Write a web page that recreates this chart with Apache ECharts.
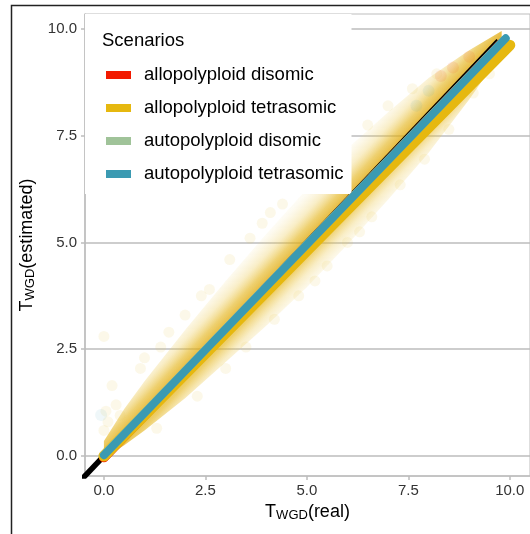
<!DOCTYPE html>
<html>
<head>
<meta charset="utf-8">
<script src="https://cdn.jsdelivr.net/npm/echarts@6/dist/echarts.min.js"></script>
<style>html,body{margin:0;padding:0;background:#fff}#c{width:530px;height:534px}</style>
</head>
<body>
<div id="c"></div>
<script>
// ---- data ----
const xTicks = [0, 2.5, 5, 7.5, 10];
const yTicks = [0, 2.5, 5, 7.5, 10];
const scenarios = ['allopolyploid disomic', 'allopolyploid tetrasomic', 'autopolyploid disomic', 'autopolyploid tetrasomic'];
// fitted lines per scenario: [[xStart, yStart], [xEnd, yEnd]]
const fitAlloDisomic = [[0, -0.03], [9.8, 9.66]];
const fitAlloTetrasomic = [[0, 0.0], [10.0, 9.62]];
const fitAutoDisomic = [[0, 0.03], [9.85, 9.74]];
const fitAutoTetrasomic = [[0, 0.02], [9.9, 9.78]];
const identityLine = [[-1, -1], [9.72, 9.72]];
// point cloud envelope (estimated) along T_WGD(real)
const cloudX = [0, 0.5, 1, 2, 3, 4, 5, 6, 7, 8, 9, 9.8];
const cloudUpper = [0.35, 1.1, 1.75, 2.95, 4.1, 5.2, 6.25, 7.2, 8.05, 8.85, 9.5, 9.95];
const cloudLower = [-0.05, 0.25, 0.6, 1.35, 2.2, 3.05, 3.95, 4.95, 6.0, 7.1, 8.35, 9.45];
// scattered outlying points (estimated)
const faintPoints = [[0, 2.8], [0.2, 1.65], [0.9, 2.05], [0.05, 1.05], [0.3, 1.2], [0.0, 0.6], [0.1, 0.8],
  [0.4, 0.95], [1.4, 2.55], [2.0, 3.3], [1.6, 2.9], [2.6, 3.9], [3.1, 4.6], [3.6, 5.1], [3.9, 5.45], [4.4, 5.9],
  [4.9, 6.35], [5.4, 6.75], [5.9, 7.2], [6.5, 7.75], [7.0, 8.2], [7.6, 8.6], [8.2, 8.95], [1.3, 0.65], [2.3, 1.4],
  [3.0, 2.05], [3.5, 2.55], [4.2, 3.2], [4.8, 3.75], [5.5, 4.45], [6.0, 5.0], [6.6, 5.6], [7.3, 6.35], [7.9, 6.95],
  [8.5, 7.65], [9.1, 8.5], [9.5, 8.95], [1.0, 2.3], [2.4, 3.75], [4.1, 5.7], [5.2, 4.1], [6.3, 5.25]];
const redPoints = [[8.6, 9.1], [9.0, 9.35], [8.3, 8.9], [8.9, 8.75]];
const bluePoints = [[-0.07, 0.96], [8.0, 8.55], [9.3, 9.05], [7.7, 8.2]];

// ---- styles ----
const colors = ['#F21A00', '#E6B80F', '#A0C399', '#3B9AB2'];
const grey = '#bdbdbd';
const chart = echarts.init(document.getElementById('c'), null, {renderer: 'canvas'});

function cloudItem(params, api) {
  const pts = [];
  for (let i = 0; i < cloudX.length; i++) pts.push(api.coord([cloudX[i], cloudUpper[i]]));
  for (let i = cloudX.length - 1; i >= 0; i--) pts.push(api.coord([cloudX[i], cloudLower[i]]));
  // gradient perpendicular to the diagonal
  const a = api.coord([0, 0]), b = api.coord([10, 10]);
  const dx = b[0] - a[0], dy = b[1] - a[1], len = Math.hypot(dx, dy);
  const nx = -dy / len, ny = dx / len, R = 44;
  const cx = (a[0] + b[0]) / 2, cy = (a[1] + b[1]) / 2;
  const grad = new echarts.graphic.LinearGradient(cx - nx * R, cy - ny * R, cx + nx * R, cy + ny * R, [
    {offset: 0.0, color: 'rgba(242,220,140,0)'},
    {offset: 0.12, color: 'rgba(240,214,120,0.10)'},
    {offset: 0.26, color: 'rgba(235,198,70,0.30)'},
    {offset: 0.38, color: 'rgba(228,180,25,0.62)'},
    {offset: 0.5, color: 'rgba(224,166,8,0.82)'},
    {offset: 0.62, color: 'rgba(228,180,25,0.62)'},
    {offset: 0.74, color: 'rgba(235,198,70,0.30)'},
    {offset: 0.88, color: 'rgba(240,214,120,0.10)'},
    {offset: 1.0, color: 'rgba(242,220,140,0)'}
  ], true);
  return {type: 'polygon', shape: {points: pts}, style: {fill: grad}};
}
const fonts = '"Liberation Sans", Arial, sans-serif';
const fits = [fitAlloDisomic, fitAlloTetrasomic, fitAutoDisomic, fitAutoTetrasomic];
const widths = [10, 11, 8, 8];

const option = {
  animation: false,
  textStyle: {fontFamily: fonts},
  grid: {left: 85, top: 14, right: -2, bottom: 58, show: true, borderColor: grey, borderWidth: 1, backgroundColor: 'transparent'},
  xAxis: {
    type: 'value', min: -0.466, max: 10.498,
    axisLine: {show: true, onZero: false, lineStyle: {color: grey, width: 1.5}},
    axisTick: {show: true, length: 4, customValues: xTicks, lineStyle: {color: grey, width: 1.5}},
    axisLabel: {customValues: xTicks, margin: 7, fontSize: 15, color: '#333', fontFamily: fonts, formatter: v => v.toFixed(1)},
    splitLine: {show: false},
    name: '{a|T}{b|WGD}{a|(real)}', nameLocation: 'middle', nameGap: 27,
    nameTextStyle: {rich: {a: {fontSize: 18, color: '#000', fontFamily: fonts, lineHeight: 19},
      b: {fontSize: 13, color: '#000', fontFamily: fonts, lineHeight: 8, verticalAlign: 'bottom'}}}
  },
  yAxis: {
    type: 'value', min: -0.468, max: 10.35,
    axisLine: {show: true, onZero: false, lineStyle: {color: grey, width: 1.5}},
    axisTick: {show: true, length: 4, customValues: yTicks, lineStyle: {color: grey, width: 1.5}},
    axisLabel: {customValues: yTicks, margin: 8, fontSize: 15, color: '#333', fontFamily: fonts, formatter: v => v.toFixed(1)},
    splitLine: {show: false},
    name: '{a|T}{b|WGD}{a|(estimated)}', nameLocation: 'middle', nameGap: 47, nameRotate: 90,
    nameTextStyle: {rich: {a: {fontSize: 18, color: '#000', fontFamily: fonts, lineHeight: 19},
      b: {fontSize: 13, color: '#000', fontFamily: fonts, lineHeight: 8, verticalAlign: 'bottom'}}}
  },
  title: {text: 'Scenarios', left: 102, top: 31, padding: 0, z: 10,
    textStyle: {fontSize: 18.5, fontWeight: 'normal', color: '#000', fontFamily: fonts, lineHeight: 20}},
  legend: {
    data: scenarios, orient: 'vertical', left: 85, top: 14, padding: [51, 8, 10, 21],
    backgroundColor: '#fff', icon: 'rect', itemWidth: 25, itemHeight: 8, itemGap: 13,
    itemStyle: {borderWidth: 0},
    textStyle: {fontSize: 18.5, color: '#000', fontFamily: fonts, lineHeight: 20, padding: [0, 0, 0, 8]},
    selectedMode: false
  },
  graphic: {elements: [{type: 'rect', silent: true, z: 100,
    shape: {x: 11.5, y: 5.5, width: 700, height: 700},
    style: {fill: null, stroke: '#222', lineWidth: 1.5}}]},
  series: [
    {type: 'custom', name: 'cloud', data: [[0, 0]], renderItem: cloudItem, silent: true, z: 2,
      markLine: {silent: true, symbol: 'none', z: 1, label: {show: false},
        lineStyle: {color: grey, width: 1.5, type: 'solid'},
        data: yTicks.map(v => ({yAxis: v}))}},
    {type: 'scatter', name: 'faint', data: faintPoints, symbolSize: 11, silent: true, z: 2,
      itemStyle: {color: 'rgba(232,192,60,0.14)'}},
    {type: 'scatter', name: 'red', data: redPoints, symbolSize: 12, silent: true, z: 2,
      itemStyle: {color: 'rgba(242,26,0,0.10)'}},
    {type: 'scatter', name: 'blue', data: bluePoints, symbolSize: 12, silent: true, z: 2,
      itemStyle: {color: 'rgba(59,154,178,0.10)'}},
    {type: 'line', name: 'identity', data: identityLine, showSymbol: false, silent: true, z: 3,
      lineStyle: {color: '#000', width: 5.5, cap: 'butt'}}
  ].concat(scenarios.map((s, i) => ({
    type: 'line', name: s, data: fits[i], showSymbol: false, silent: true, z: 4,
    color: colors[i], itemStyle: {color: colors[i], borderWidth: 0},
    lineStyle: {color: colors[i], width: widths[i], cap: 'round'}
  })))
};
chart.setOption(option);
</script>
</body>
</html>
